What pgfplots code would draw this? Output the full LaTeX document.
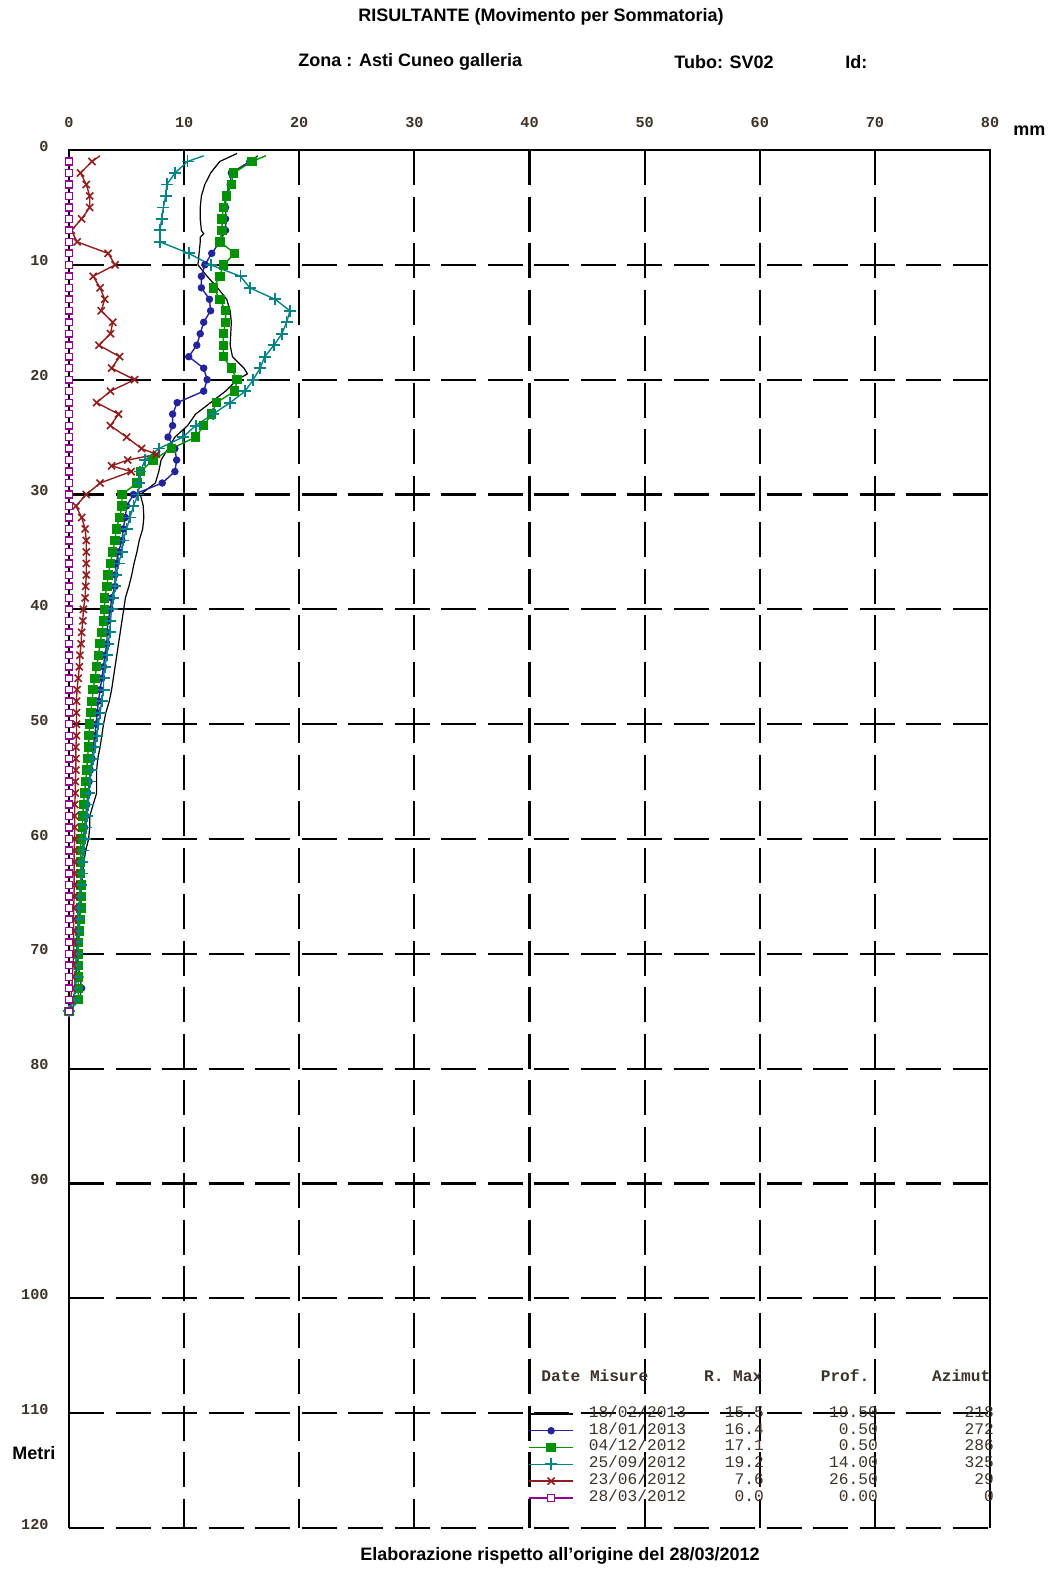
\documentclass[border=0pt]{standalone}
\usepackage{fontspec}
\setmainfont{Liberation Sans}
\setmonofont{Liberation Mono}
\usepackage{pgfplots}
\usepackage{pgfplotstable}
\pgfplotsset{compat=1.18}
\definecolor{cblue}{RGB}{35,35,155}
\definecolor{cgreen}{RGB}{0,145,0}
\definecolor{cteal}{RGB}{0,130,135}
\definecolor{cbrown}{RGB}{145,30,30}
\definecolor{cpurple}{RGB}{150,0,150}
\definecolor{tickc}{RGB}{60,50,40}

\pgfplotstableread{
d x
0.3 14.6
1 13.1
2 12.3
3 11.8
4 11.5
5 11.4
6 11.4
7 11.5
7.3 11.7
7.6 11.4
8 11.4
9 11.3
10 11.2
11 12.0
12 12.9
13 13.7
14 14.0
15 14.1
16 14.05
17 14.0
18 14.2
19 15.2
19.5 15.5
20 14.6
21 13.6
22 12.3
23 11.0
24 10.3
25 9.2
26 8.6
27 8.0
28 7.8
29 7.5
30 6.2
31 6.45
32 6.5
33 6.4
34 6.1
35 5.9
36 5.65
37 5.45
38 5.2
39 4.9
40 4.75
41 4.6
42 4.45
43 4.3
44 4.15
45 4.0
46 3.85
47 3.7
48 3.5
49 3.2
50 3.0
51 2.85
52 2.7
53 2.5
54 2.4
55 2.4
56 2.4
57 2.1
58 1.8
59 1.8
60 1.7
61 1.45
62 1.3
63 1.2
64 1.1
65 1.0
66 0.95
67 0.9
68 0.85
69 0.8
70 0.75
71 0.7
72 0.65
73 0.55
74 0.4
75 0
}\blackdata

\pgfplotstableread{
d x
0.5 16.4
1 15.7
2 14.1
3 14.0
4 13.6
5 13.6
6 13.6
7 13.6
8 13.1
9 12.4
10 11.8
11 11.5
12 11.5
13 12.2
14 12.3
15 11.7
16 11.4
17 11.1
18 10.4
19 11.7
20 12.0
21 11.7
22 9.4
23 9.0
24 9.0
25 8.6
26 9.2
27 9.35
28 9.2
29 8.1
30 5.6
31 5.0
32 4.9
33 4.7
34 4.6
35 4.3
36 4.1
37 4.0
38 4.0
39 3.7
40 3.6
41 3.4
42 3.3
43 3.3
44 3.1
45 3.0
46 2.85
47 2.7
48 2.55
49 2.45
50 2.35
51 2.25
52 2.1
53 2.0
54 1.85
55 1.75
56 1.65
57 1.55
58 1.45
59 1.35
60 1.25
61 1.2
62 1.1
63 1.05
64 1.0
65 0.95
66 0.9
67 0.85
68 0.8
69 0.75
70 0.75
71 0.8
72 0.95
73 1.1
74 0.9
75 0
}\bluedata

\pgfplotstableread{
d x
0.5 17.1
1 15.9
2 14.3
3 14.1
4 13.7
5 13.4
6 13.3
7 13.3
8 13.1
9 14.4
10 13.4
11 13.1
12 12.55
13 13.1
14 13.6
15 13.6
16 13.4
17 13.4
18 13.4
19 14.1
20 14.6
21 14.4
22 12.8
23 12.4
24 11.7
25 11.0
26 8.9
27 7.3
28 6.2
29 5.9
30 4.6
31 4.6
32 4.4
33 4.1
34 4.0
35 3.8
36 3.6
37 3.4
38 3.3
39 3.1
40 3.1
41 3.0
42 2.85
43 2.7
44 2.55
45 2.4
46 2.25
47 2.1
48 2.0
49 1.9
50 1.8
51 1.75
52 1.7
53 1.6
54 1.55
55 1.45
56 1.35
57 1.25
58 1.2
59 1.15
60 1.05
61 1.0
62 1.0
63 1.0
64 1.05
65 1.05
66 1.05
67 0.95
68 0.9
69 0.85
70 0.8
71 0.8
72 0.8
73 0.8
74 0.8
75 0
}\greendata

\pgfplotstableread{
d x
0.5 11.7
1 10.3
2 9.2
3 8.5
4 8.4
5 8.2
6 8.05
7 7.9
8 7.9
9 10.4
10 12.3
11 14.9
12 15.7
13 17.9
14 19.2
15 18.9
16 18.5
17 17.8
18 17.0
19 16.6
20 16.0
21 15.3
22 14.0
23 12.5
24 11.0
25 9.9
26 7.8
27 6.6
28 6.2
29 6.1
30 6.0
31 5.6
32 5.3
33 5.0
34 4.7
35 4.6
36 4.3
37 4.1
38 4.0
39 3.85
40 3.7
41 3.6
42 3.55
43 3.4
44 3.3
45 3.1
46 3.0
47 3.0
48 2.85
49 2.7
50 2.55
51 2.4
52 2.25
53 2.1
54 1.95
55 1.8
56 1.75
57 1.65
58 1.55
59 1.45
60 1.35
61 1.25
62 1.15
63 1.1
64 1.0
65 0.95
66 0.9
67 0.8
68 0.75
69 0.7
70 0.67
71 0.6
72 0.55
73 0.5
74 0.4
75 0
}\tealdata

\pgfplotstableread{
d x
0.5 2.7
1 2.0
2 1.0
3 1.5
4 1.8
5 1.8
6 1.1
7 0.2
8 0.7
9 3.4
10 4.0
11 2.1
12 2.7
13 3.1
14 2.8
15 3.8
16 3.6
17 2.6
18 4.4
19 3.7
20 5.7
21 3.6
22 2.4
23 4.3
24 3.6
25 5.0
26 6.3
26.5 7.6
27 5.1
27.5 3.7
28 5.4
29 2.7
30 1.5
31 0.6
32 1.1
33 1.4
34 1.5
35 1.5
36 1.5
37 1.5
38 1.45
39 1.4
40 1.25
41 1.2
42 1.1
43 1.05
44 0.95
45 0.9
46 0.8
47 0.7
48 0.65
49 0.65
50 0.65
51 0.65
52 0.6
53 0.6
54 0.6
55 0.55
56 0.55
57 0.5
58 0.5
59 0.5
60 0.5
61 0.45
62 0.45
63 0.45
64 0.45
65 0.45
66 0.4
67 0.4
68 0.4
69 0.4
70 0.4
71 0.35
72 0.3
73 0.25
74 0.15
75 0
}\browndata

\pgfplotstableread{
d x
1 0
2 0
3 0
4 0
5 0
6 0
7 0
8 0
9 0
10 0
11 0
12 0
13 0
14 0
15 0
16 0
17 0
18 0
19 0
20 0
21 0
22 0
23 0
24 0
25 0
26 0
27 0
28 0
29 0
30 0
31 0
32 0
33 0
34 0
35 0
36 0
37 0
38 0
39 0
40 0
41 0
42 0
43 0
44 0
45 0
46 0
47 0
48 0
49 0
50 0
51 0
52 0
53 0
54 0
55 0
56 0
57 0
58 0
59 0
60 0
61 0
62 0
63 0
64 0
65 0
66 0
67 0
68 0
69 0
70 0
71 0
72 0
73 0
74 0
75 0
}\purpledata

\newcommand{\lrow}[4]{\hspace*{7.5pt}\makebox[87.5pt]{#1\hfill #2}\makebox[57pt][r]{#3}\makebox[58pt][r]{#4}}

\begin{document}
\begin{tikzpicture}
\useasboundingbox (0,0) rectangle (525.5pt,784.5pt);
\begin{axis}[
  at={(34.5pt,20.5pt)}, anchor=south west,
  scale only axis, width=460.5pt, height=689pt,
  xmin=0, xmax=80, ymin=0, ymax=120, y dir=reverse,
  xtick={0,10,...,80}, ytick={0,10,...,120},
  xticklabel pos=upper,
  major tick length=0pt,
  tick style={draw=none},
  axis line style={draw=none},
  grid=major,
  major grid style={black, line width=1.05pt, dash pattern=on 17.5pt off 5.75pt},
  /pgf/number format/assume math mode=true,
  ticklabel style={font=\ttfamily\bfseries\fontsize{7.6}{8}\selectfont, text=tickc, inner sep=0pt},
  xticklabel style={anchor=center, yshift=14pt},
  yticklabel style={anchor=east, xshift=-10pt, yshift=2pt},
  clip=false,
  legend cell align=left,
  legend style={at={(axis cs:39.87,109.3)}, anchor=north west, draw=none, fill=none,
    inner sep=0pt, row sep=0pt,
    font=\ttfamily\fontsize{8.1}{8.4}\selectfont, text=tickc,
    nodes={inner sep=0pt, text height=5.9pt, text depth=2.5pt}},
  legend image code/.code={\draw[#1, mark repeat=2, mark phase=2] plot coordinates {(0pt,0pt) (11pt,0pt) (22pt,0pt)};},
]
\addplot[black, line width=0.6pt, no markers] table[x=x, y=d] {\blackdata};
\addlegendentry{\lrow{18/02/2013}{15.5}{19.50}{218}}
\addplot[cblue, line width=0.7pt, mark=*, mark size=1.5pt, mark repeat=1, mark phase=2] table[x=x, y=d] {\bluedata};
\addlegendentry{\lrow{18/01/2013}{16.4}{0.50}{272}}
\addplot[cgreen, line width=0.7pt, mark=square*, mark size=2pt, mark repeat=1, mark phase=2] table[x=x, y=d] {\greendata};
\addlegendentry{\lrow{04/12/2012}{17.1}{0.50}{286}}
\addplot[cteal, line width=0.7pt, mark=+, mark size=3pt, mark options={line width=0.9pt}, mark repeat=1, mark phase=2] table[x=x, y=d] {\tealdata};
\addlegendentry{\lrow{25/09/2012}{19.2}{14.00}{325}}
\addplot[cbrown, line width=0.7pt, mark=x, mark size=2.5pt, mark options={line width=0.8pt}, mark repeat=1, mark phase=2] table[x=x, y=d] {\browndata};
\addlegendentry{\lrow{23/06/2012}{7.6}{26.50}{29}}
\addplot[cpurple, line width=0.7pt, mark=square*, mark size=1.7pt, mark options={fill=white, line width=0.7pt}] table[x=x, y=d] {\purpledata};
\addlegendentry{\lrow{28/03/2012}{0.0}{0.00}{0}}
\draw[black, line width=1pt] (axis cs:0,120) -- (axis cs:0,0) -- (axis cs:80,0) -- (axis cs:80,120);
\node[anchor=west, inner sep=0pt, font=\ttfamily\bfseries\fontsize{8.1}{8.4}\selectfont, text=tickc] at (axis cs:41.0,106.7)
  {\makebox[110.5pt]{Date Misure\hfill R. Max}\makebox[53.5pt][r]{Prof.}\makebox[60.5pt][r]{Azimut}};
\end{axis}
\begin{scope}[every node/.style={inner sep=0pt, font=\bfseries\fontsize{9}{10}\selectfont}]
\node[anchor=center] at (270.5pt,776pt) {RISULTANTE (Movimento per Sommatoria)};
\node[anchor=west] at (149pt,753.5pt) {Zona : Asti Cuneo galleria};
\node[anchor=west] at (337pt,753.5pt) {Tubo: SV02};
\node[anchor=west] at (422.5pt,753.5pt) {Id:};
\node[anchor=west] at (506.5pt,719pt) {mm};
\node[anchor=west] at (6pt,58pt) {Metri};
\node[anchor=center] at (280pt,6.5pt) {Elaborazione rispetto all'origine del 28/03/2012};
\end{scope}
\end{tikzpicture}
\end{document}
